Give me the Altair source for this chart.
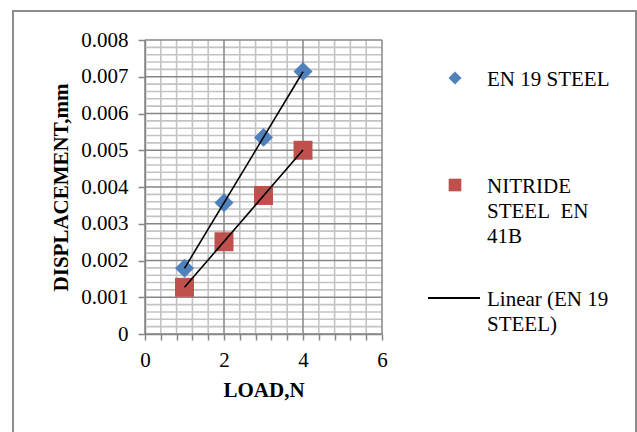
import altair as alt
import pandas as pd

# ---- data ----
load = [1, 2, 3, 4]
en19 = [0.00179, 0.00357, 0.00535, 0.00714]
nitride = [0.00127, 0.00251, 0.00377, 0.00500]
series_names = ["EN 19 STEEL", "NITRIDE STEEL EN 41B"]
colors = ["#4F81BD", "#C0504D"]
shapes = ["diamond", "square"]

x_major = [0, 2, 4, 6]
y_major = [0, 0.001, 0.002, 0.003, 0.004, 0.005, 0.006, 0.007, 0.008]
x_all = [round(0.4 * i, 1) for i in range(16)]
x_minor = [v for i, v in enumerate(x_all) if i % 5]
y_minor = [round(0.0002 * i, 4) for i in range(41) if i % 5]

legend_lines = [
    ["EN 19 STEEL"],
    ["NITRIDE", "STEEL\u00a0 EN", "41B"],
    ["Linear (EN 19", "STEEL)"],
]

FONT = "'Liberation Serif', 'Times New Roman', serif"
FS = 21
W, H = 237, 294
MAJOR = "#868686"
MINOR = "#c3c3c3"

df = pd.DataFrame({
    "load": load + load,
    "disp": en19 + nitride,
    "series": [series_names[0]] * 4 + [series_names[1]] * 4,
})

xscale = alt.Scale(domain=[0, 6], nice=False, zero=False)
yscale = alt.Scale(domain=[0, 0.008], nice=False, zero=False)

xaxis = alt.Axis(
    title="LOAD,N", values=x_all, grid=False,
    labelExpr="abs(datum.value/2 - round(datum.value/2)) < 0.001 ? format(datum.value, 'd') : ''",
    labelOverlap=False, labelFlush=False, labelPadding=9,
    tickSize=6, tickColor=MAJOR, tickWidth=1.5,
    domainColor=MAJOR, domainWidth=1.5,
    labelFont=FONT, labelFontSize=FS, labelColor="black",
    titleFont=FONT, titleFontSize=FS, titleFontWeight="bold", titleColor="black",
    titlePadding=9)
yaxis = alt.Axis(
    title="DISPLACEMENT,mm", values=y_major, grid=False,
    labelExpr="datum.value === 0 ? '0' : format(datum.value, '.3f')",
    labelOverlap=False, labelFlush=False, labelPadding=10,
    tickSize=7, tickColor=MAJOR, tickWidth=1.5,
    domainColor=MAJOR, domainWidth=1.5,
    labelFont=FONT, labelFontSize=FS, labelColor="black",
    titleFont=FONT, titleFontSize=FS, titleFontWeight="bold", titleColor="black",
    titlePadding=9)

def X(f):
    return alt.X(f, scale=xscale, axis=xaxis)

def Y(f):
    return alt.Y(f, scale=yscale, axis=yaxis)

minor_x = alt.Chart(pd.DataFrame({"v": x_minor})).mark_rule(color=MINOR, strokeWidth=1.6).encode(x=X("v:Q"))
minor_y = alt.Chart(pd.DataFrame({"v": y_minor})).mark_rule(color=MINOR, strokeWidth=1.6).encode(y=Y("v:Q"))
major_x = alt.Chart(pd.DataFrame({"v": x_major})).mark_rule(color=MAJOR, strokeWidth=1.5).encode(x=X("v:Q"))
major_y = alt.Chart(pd.DataFrame({"v": y_major})).mark_rule(color=MAJOR, strokeWidth=1.5).encode(y=Y("v:Q"))

points = alt.Chart(df).mark_point(filled=True, opacity=1, size=360).encode(
    x=X("load:Q"),
    y=Y("disp:Q"),
    color=alt.Color("series:N", scale=alt.Scale(domain=series_names, range=colors), legend=None),
    shape=alt.Shape("series:N", scale=alt.Scale(domain=series_names, range=shapes), legend=None),
)

trend = alt.Chart(df).transform_regression(
    "load", "disp", groupby=["series"], extent=[1, 4]
).mark_line(color="black", strokeWidth=1.6).encode(
    x=X("load:Q"),
    y=Y("disp:Q"),
    detail="series:N",
)

one = pd.DataFrame({"a": [0]})
border = alt.Chart(one).mark_rect(fillOpacity=0, stroke="#8c8c8c", strokeWidth=2).encode(
    x=alt.value(-132), x2=alt.value(491), y=alt.value(-29), y2=alt.value(420))

leg_layers = []
sym_x = 310
txt_x = 342
sym_y = [38, 145, 258]
leg_layers.append(alt.Chart(one).mark_point(filled=True, opacity=1, shape=shapes[0], size=170,
                                            color=colors[0]).encode(x=alt.value(sym_x), y=alt.value(sym_y[0])))
leg_layers.append(alt.Chart(one).mark_point(filled=True, opacity=1, shape=shapes[1], size=160,
                                            color=colors[1]).encode(x=alt.value(sym_x), y=alt.value(sym_y[1])))
leg_layers.append(alt.Chart(one).mark_rule(color="black", strokeWidth=2).encode(
    x=alt.value(283), x2=alt.value(335), y=alt.value(sym_y[2])))
LH = 25
for i, lines in enumerate(legend_lines):
    for j, line in enumerate(lines):
        leg_layers.append(alt.Chart(one).mark_text(
            align="left", baseline="middle", font=FONT, fontSize=FS, color="black"
        ).encode(x=alt.value(txt_x), y=alt.value(sym_y[i] + 2 + j * LH), text=alt.value(line)))

chart = alt.layer(
    border, minor_x, minor_y, major_x, major_y, points, trend, *leg_layers
).properties(
    width=W, height=H,
    autosize=alt.AutoSizeParams(type="none"),
    padding={"left": 145, "top": 40, "right": 255, "bottom": 98},
    background="white",
).configure_view(stroke="transparent")

chart.save("out.html", embed_options={"renderer": "svg", "actions": False})
